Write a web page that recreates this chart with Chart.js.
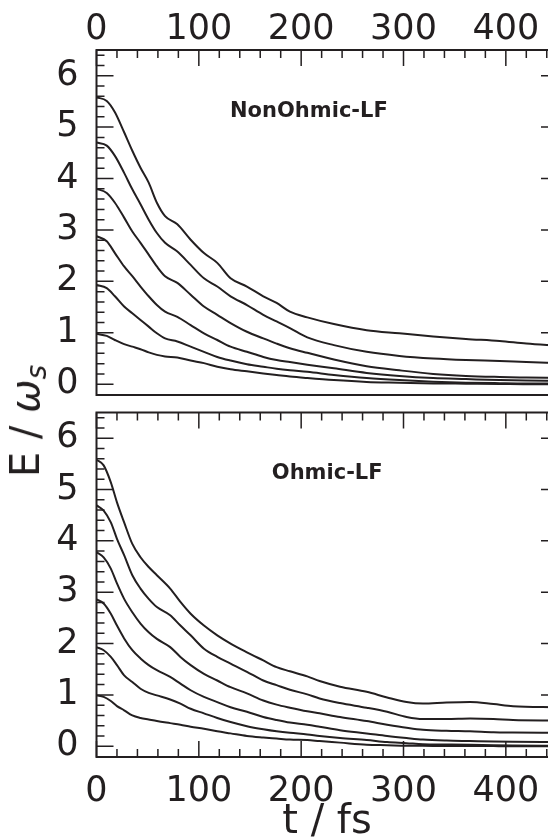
<!DOCTYPE html>
<html>
<head>
<meta charset="utf-8">
<script src="https://cdn.jsdelivr.net/npm/chart.js@4.4.0/dist/chart.umd.min.js"></script>
<style>
    body { margin: 0; background: #fff; width: 548px; height: 837px; overflow: hidden; position: relative; font-family: 'DejaVu Sans', sans-serif; color: #231f20; }
    canvas { position: absolute; left: 0; }
    #top-chart { top: 0; }
    #bottom-chart { top: 400px; }
    #ylab { position: absolute; left: 28px; top: 421px; font-size: 40px; line-height: 1; white-space: nowrap; transform: translate(-50%, -50%) rotate(-90deg); }
    #ylab sub { font-size: 0.7em; font-style: italic; vertical-align: -0.25em; }
    #xlab { position: absolute; left: 327px; top: 799px; font-size: 40px; line-height: 1; white-space: nowrap; transform: translateX(-50%); }
</style>
</head>
<body>
<canvas id="top-chart" width="570" height="400"></canvas>
<canvas id="bottom-chart" width="570" height="437"></canvas>
<div id="ylab">E / <i>ω</i><sub>s</sub></div>
<div id="xlab">t / fs</div>
<script>
const INK = '#231f20';

// time grid (fs)
const tTop = [0, 10, 18, 27, 35, 43, 51, 59, 67, 79, 92, 105, 118, 131, 147, 163, 176, 189, 206, 232, 264, 296, 329, 361, 394, 420, 450];
const tBottom = [0, 7, 14, 20, 27, 35, 43, 51, 59, 72, 82, 92, 105, 118, 131, 147, 163, 176, 189, 206, 218, 238, 264, 284, 303, 319, 342, 365, 388, 407, 450];

// NonOhmic-LF, E / omega_s
const nonOhmic1 = [5.58, 5.51, 5.29, 4.90, 4.54, 4.21, 3.92, 3.53, 3.27, 3.11, 2.81, 2.55, 2.36, 2.06, 1.90, 1.71, 1.58, 1.41, 1.30, 1.17, 1.05, 0.99, 0.93, 0.88, 0.84, 0.79, 0.75];
const nonOhmic2 = [4.70, 4.64, 4.44, 4.11, 3.79, 3.50, 3.20, 2.94, 2.75, 2.58, 2.32, 2.06, 1.90, 1.71, 1.54, 1.35, 1.22, 1.09, 0.91, 0.76, 0.63, 0.55, 0.50, 0.47, 0.45, 0.43, 0.41];
const nonOhmic3 = [3.80, 3.72, 3.53, 3.24, 2.97, 2.75, 2.52, 2.29, 2.10, 1.97, 1.74, 1.51, 1.35, 1.19, 1.02, 0.89, 0.79, 0.70, 0.61, 0.48, 0.35, 0.27, 0.20, 0.16, 0.14, 0.13, 0.12];
const nonOhmic4 = [2.88, 2.78, 2.55, 2.29, 2.10, 1.90, 1.71, 1.54, 1.41, 1.31, 1.15, 0.99, 0.86, 0.73, 0.63, 0.53, 0.47, 0.43, 0.38, 0.31, 0.22, 0.16, 0.12, 0.10, 0.08, 0.07, 0.065];
const nonOhmic5 = [1.93, 1.87, 1.71, 1.51, 1.38, 1.25, 1.12, 0.99, 0.89, 0.83, 0.73, 0.63, 0.53, 0.46, 0.39, 0.34, 0.30, 0.27, 0.24, 0.18, 0.12, 0.08, 0.05, 0.03, 0.02, 0.015, 0.015];
const nonOhmic6 = [0.98, 0.94, 0.86, 0.78, 0.73, 0.68, 0.62, 0.57, 0.54, 0.52, 0.46, 0.41, 0.34, 0.29, 0.25, 0.21, 0.18, 0.15, 0.12, 0.08, 0.045, 0.03, 0.015, 0.01, 0.005, 0.0, 0.0];

// Ohmic-LF
const ohmic1 = [5.58, 5.47, 5.14, 4.75, 4.36, 3.94, 3.68, 3.49, 3.33, 3.07, 2.81, 2.58, 2.35, 2.16, 2.00, 1.83, 1.67, 1.54, 1.46, 1.36, 1.27, 1.16, 1.06, 0.95, 0.86, 0.83, 0.85, 0.86, 0.82, 0.78, 0.76];
const ohmic2 = [4.69, 4.59, 4.36, 4.04, 3.72, 3.33, 3.07, 2.87, 2.71, 2.55, 2.35, 2.16, 1.90, 1.74, 1.61, 1.45, 1.28, 1.19, 1.10, 1.01, 0.93, 0.84, 0.75, 0.67, 0.57, 0.53, 0.53, 0.54, 0.53, 0.51, 0.50];
const ohmic3 = [3.78, 3.68, 3.46, 3.17, 2.87, 2.61, 2.39, 2.22, 2.09, 1.93, 1.74, 1.58, 1.41, 1.28, 1.15, 1.03, 0.89, 0.81, 0.75, 0.68, 0.64, 0.57, 0.49, 0.42, 0.36, 0.32, 0.30, 0.29, 0.27, 0.265, 0.26];
const ohmic4 = [2.86, 2.78, 2.58, 2.35, 2.10, 1.87, 1.71, 1.58, 1.48, 1.35, 1.22, 1.09, 0.96, 0.86, 0.76, 0.67, 0.57, 0.51, 0.46, 0.42, 0.38, 0.31, 0.25, 0.20, 0.16, 0.13, 0.11, 0.10, 0.09, 0.085, 0.08];
const ohmic5 = [1.93, 1.87, 1.74, 1.58, 1.38, 1.25, 1.12, 1.04, 0.99, 0.91, 0.83, 0.73, 0.64, 0.55, 0.47, 0.39, 0.33, 0.29, 0.26, 0.23, 0.20, 0.16, 0.12, 0.08, 0.06, 0.04, 0.035, 0.03, 0.02, 0.015, 0.01];
const ohmic6 = [0.99, 0.96, 0.88, 0.78, 0.70, 0.60, 0.55, 0.52, 0.49, 0.45, 0.42, 0.38, 0.34, 0.29, 0.25, 0.20, 0.17, 0.15, 0.13, 0.12, 0.10, 0.07, 0.03, 0.02, 0.01, 0.008, 0.005, 0.003, 0.002, 0.001, 0.0];

const X_MIN = 0, X_MAX = 450;
const Y_MIN = -0.21, Y_MAX = 6.5;

// inward ticks, frame and panel label
const framePlugin = {
    id: 'frame',
    afterDatasetsDraw(chart, args, o) {
        const { ctx, chartArea: a, scales: { x, y } } = chart;
        ctx.save();
        ctx.strokeStyle = INK;
        ctx.lineWidth = 1.5;
        ctx.beginPath();
        for (let i = 0; i * 20 <= x.max; i++) {
            const px = x.getPixelForValue(i * 20);
            const len = i % 5 === 0 ? 16 : 8;
            if (o.topTicks) { ctx.moveTo(px, a.top); ctx.lineTo(px, a.top + len); }
            if (o.bottomTicks) { ctx.moveTo(px, a.bottom); ctx.lineTo(px, a.bottom - len); }
        }
        for (let i = 0; i * 0.2 <= y.max; i++) {
            const py = y.getPixelForValue(i * 0.2);
            const major = i % 5 === 0;
            ctx.moveTo(a.left, py);
            ctx.lineTo(a.left + (major ? 17 : 8), py);
            if (major) { ctx.moveTo(a.right, py); ctx.lineTo(a.right - 16, py); }
        }
        ctx.stroke();

        ctx.lineWidth = 2;
        ctx.strokeRect(a.left, a.top, a.right - a.left, a.bottom - a.top);

        ctx.fillStyle = INK;
        ctx.font = 'bold 21px "DejaVu Sans"';
        ctx.textBaseline = 'alphabetic';
        ctx.fillText(o.label, x.getPixelForValue(o.labelX), y.getPixelForValue(o.labelY));
        ctx.restore();
    }
};

function makePanel(canvasId, times, series, opts) {
    const tickFont = { family: 'DejaVu Sans', size: 35 };
    return new Chart(document.getElementById(canvasId), {
        type: 'line',
        data: {
            datasets: series.map(s => ({
                data: times.map((t, i) => ({ x: t, y: s[i] })),
                borderColor: INK,
                borderWidth: 2,
                pointRadius: 0,
                cubicInterpolationMode: 'monotone',
                fill: false
            }))
        },
        options: {
            responsive: false,
            animation: false,
            layout: { padding: opts.padding },
            plugins: {
                legend: { display: false },
                tooltip: { enabled: false },
                frame: opts.frame
            },
            scales: {
                x: {
                    type: 'linear',
                    position: opts.xPosition,
                    min: X_MIN,
                    max: X_MAX,
                    grid: { display: false },
                    border: { display: false },
                    ticks: { stepSize: 100, includeBounds: false, font: tickFont, color: INK, padding: opts.xPad, maxRotation: 0 },
                    afterFit: s => { s.height = opts.xHeight; s.paddingLeft = 0; s.paddingRight = 0; }
                },
                y: {
                    type: 'linear',
                    position: 'left',
                    min: Y_MIN,
                    max: Y_MAX,
                    grid: { display: false },
                    border: { display: false },
                    ticks: { stepSize: 1, includeBounds: false, font: tickFont, color: INK, padding: 10 },
                    afterFit: s => { s.width = 96.5; s.paddingTop = 0; s.paddingBottom = 0; }
                }
            }
        },
        plugins: [framePlugin]
    });
}

makePanel('top-chart', tTop,
    [nonOhmic1, nonOhmic2, nonOhmic3, nonOhmic4, nonOhmic5, nonOhmic6],
    {
        xPosition: 'top',
        xHeight: 50,
        xPad: -9,
        padding: { top: 0, bottom: 5, left: 0, right: 13 },
        frame: { topTicks: true, bottomTicks: false, label: 'NonOhmic-LF', labelX: 130.5, labelY: 5.2 }
    });

makePanel('bottom-chart', tBottom,
    [ohmic1, ohmic2, ohmic3, ohmic4, ohmic5, ohmic6],
    {
        xPosition: 'bottom',
        xHeight: 80,
        xPad: 6,
        padding: { top: 12.5, bottom: 0, left: 0, right: 13 },
        frame: { topTicks: true, bottomTicks: true, label: 'Ohmic-LF', labelX: 171.3, labelY: 5.2 }
    });
</script>
</body>
</html>
